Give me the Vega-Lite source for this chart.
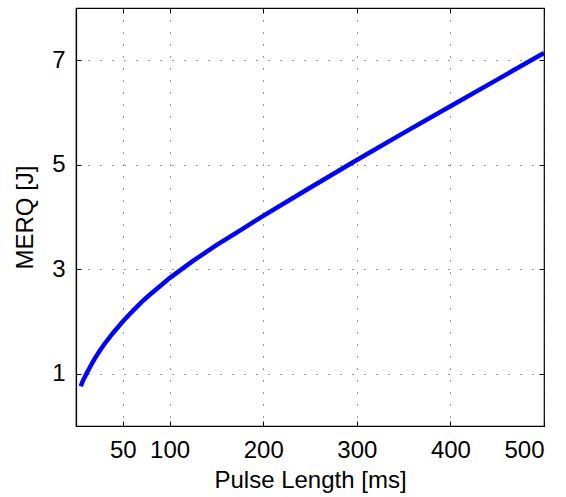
{
  "$schema": "https://vega.github.io/schema/vega-lite/v6.json",
  "width": 468,
  "height": 418,
  "autosize": {"type": "none"},
  "padding": {"left": 76, "top": 8, "right": 22, "bottom": 71},
  "background": "white",
  "config": {
    "view": {"stroke": "#000", "strokeWidth": 1.2},
    "font": "Liberation Sans",
    "axis": {
      "labelFont": "Liberation Sans",
      "titleFont": "Liberation Sans",
      "labelFontSize": 24,
      "titleFontSize": 24,
      "titleFontWeight": "normal",
      "labelColor": "#000",
      "titleColor": "#000",
      "domainColor": "#000",
      "domainWidth": 1.2,
      "tickColor": "#000",
      "gridColor": "#000",
      "gridDash": [1, 11],
      "gridWidth": 1,
      "gridOpacity": 0.85
    }
  },
  "data": {
    "values": [
      {"t": 5, "v": 0.76},
      {"t": 7, "v": 0.85},
      {"t": 10, "v": 0.96},
      {"t": 15, "v": 1.13},
      {"t": 20, "v": 1.29},
      {"t": 25, "v": 1.43},
      {"t": 30, "v": 1.56},
      {"t": 40, "v": 1.79},
      {"t": 50, "v": 2.0},
      {"t": 60, "v": 2.19},
      {"t": 70, "v": 2.37},
      {"t": 80, "v": 2.53},
      {"t": 90, "v": 2.68},
      {"t": 100, "v": 2.83},
      {"t": 125, "v": 3.16},
      {"t": 150, "v": 3.46},
      {"t": 175, "v": 3.74},
      {"t": 200, "v": 4.02},
      {"t": 250, "v": 4.56},
      {"t": 300, "v": 5.09},
      {"t": 350, "v": 5.61},
      {"t": 400, "v": 6.12},
      {"t": 450, "v": 6.63},
      {"t": 500, "v": 7.14}
    ]
  },
  "layer": [
    {
      "mark": {"type": "line", "opacity": 0},
      "encoding": {
        "x": {
          "field": "t", "type": "quantitative",
          "scale": {"domain": [0, 500], "nice": false, "zero": false},
          "axis": {"orient": "top", "values": [50, 100, 200, 300, 400, 500], "labels": false, "title": null, "grid": false, "tickSize": -5, "domain": false}
        },
        "y": {
          "field": "v", "type": "quantitative",
          "scale": {"domain": [0, 8], "nice": false, "zero": false},
          "axis": {"orient": "right", "values": [1, 3, 5, 7], "labels": false, "title": null, "grid": false, "tickSize": -5, "domain": false}
        }
      }
    },
    {
      "mark": {"type": "line", "color": "#0000ff", "strokeWidth": 4.5, "strokeCap": "butt"},
      "encoding": {
        "x": {
          "field": "t", "type": "quantitative",
          "scale": {"domain": [0, 500], "nice": false, "zero": false},
          "axis": {"orient": "bottom", "values": [50, 100, 200, 300, 400, 500], "title": "Pulse Length [ms]", "grid": true, "tickSize": -5, "labelPadding": 17, "titleBaseline": "alphabetic", "titleY": 61}
        },
        "y": {
          "field": "v", "type": "quantitative",
          "scale": {"domain": [0, 8], "nice": false, "zero": false},
          "axis": {"orient": "left", "values": [1, 3, 5, 7], "title": "MERQ [J]", "grid": true, "tickSize": -5, "labelPadding": 16, "titleBaseline": "alphabetic", "titleX": -44, "titleY": 209, "titleAngle": 270}
        }
      }
    }
  ]
}
